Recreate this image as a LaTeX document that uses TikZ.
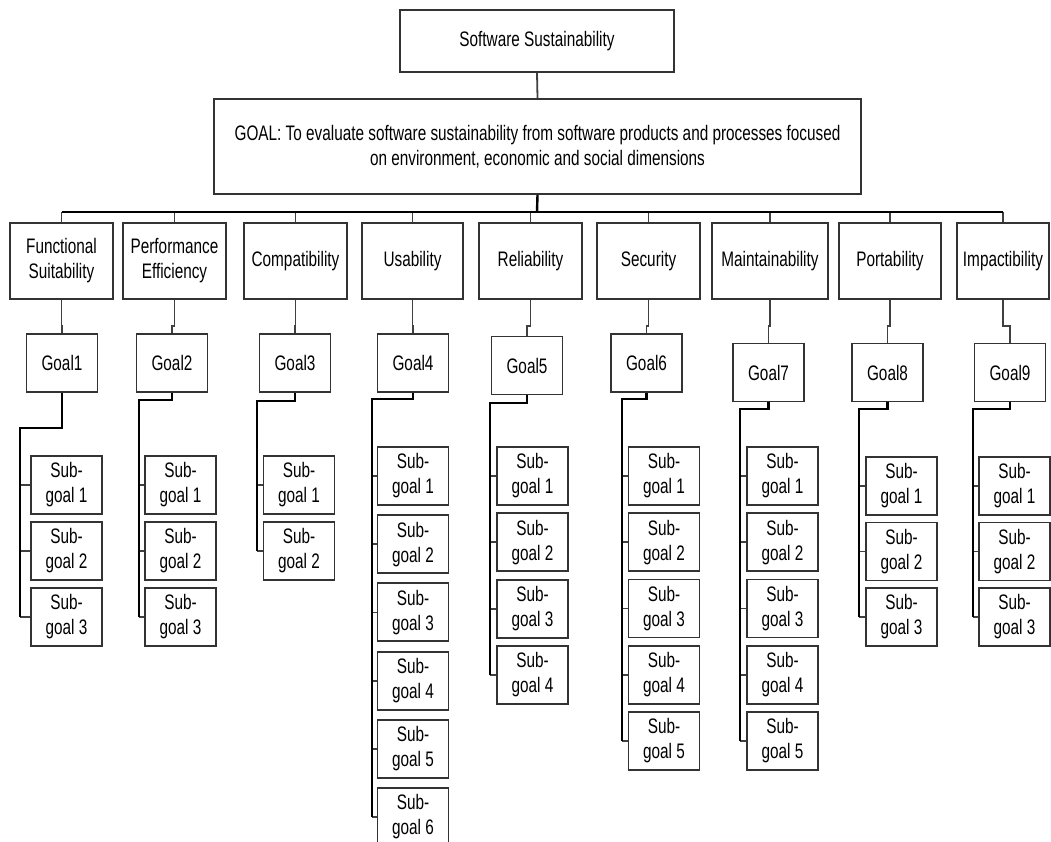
\documentclass[tikz,border=0pt]{standalone}
\usepackage{fontspec}
\setmainfont{Liberation Sans}[FakeStretch=0.73]
\usetikzlibrary{calc}
\tikzstyle{box}=[draw=black!80,line width=1.9pt,fill=white,align=center,inner sep=0pt,font=\fontsize{21}{25}\selectfont]
\tikzstyle{catbox}=[box,minimum height=76pt]
\tikzstyle{goalbox}=[box,minimum width=71pt,minimum height=58pt]
\tikzstyle{subbox}=[box,minimum width=71pt,minimum height=58pt]
\tikzstyle{link}=[draw=black!75,line width=1.8pt]
\tikzstyle{trunk}=[draw=black,line width=2.4pt]
\newcommand{\subcolumn}[7]{% column, x of subs, top of first sub, step, count, trunk x, elbow y
  \coordinate (t#1) at (#6,#7);
  \foreach \j in {1,...,#5} {
    \node[subbox] (s#1-\j) at (#2,{#3+29+(\j-1)*#4}) {Sub-\\goal \j};
    \draw[link] (s#1-\j.west) -- (s#1-\j.west -| t#1);
  }
  \draw[trunk] (g#1.south) |- (t#1) -- (t#1 |- s#1-#5.west);
}

\begin{document}
\begin{tikzpicture}[x=1pt,y=-1pt]
\useasboundingbox (0,0) rectangle (1051,842);
\node[box,minimum width=274pt,minimum height=62pt] (top) at (537,41) {Software Sustainability};
\node[box,minimum width=647pt,minimum height=95pt] (goal) at (537.5,146.5)
  {GOAL: To evaluate software sustainability from software products and processes focused\\on environment, economic and social dimensions};
\draw[link] (top.south) -- (goal.north);
\coordinate (bus) at (537,212);

% quality characteristics
\foreach \i/\x/\w/\name in {1/61.5/103/{Functional\\Suitability},2/174.5/103/{Performance\\Efficiency},
  3/295.5/103/Compatibility,4/412.5/101/Usability,5/530.5/103/Reliability,6/648.5/103/Security,
  7/770/116/Maintainability,8/890/102/Portability,9/1003/92/Impactibility}{
  \node[catbox,minimum width=\w pt] (c\i) at (\x,261) {\name};
  \draw[link] (c\i.north) -- (c\i.north |- bus);
}
\draw[trunk] (goal.south) -- (bus);
\draw[trunk] (c1.north |- bus) -- (c9.north |- bus);

% goals
\foreach \i/\x/\y in {1/62/363,2/172/363,3/295/363,4/413/363,5/527/365.5,6/646.5/363,
  7/768.5/372.5,8/887.5/372.5,9/1010/372.5}{
  \node[goalbox] (g\i) at (\x,\y) {Goal\i};
  \draw[link] (c\i.south) -- ++(0,26) -| (g\i.north);
}

% sub-goals
\subcolumn{1}{66.5}{456}{66}{3}{20}{428}
\subcolumn{2}{180.5}{456}{66}{3}{139}{400}
\subcolumn{3}{299}{456}{66}{2}{257}{401}
\subcolumn{4}{413}{447}{68.2}{6}{372}{399}
\subcolumn{5}{532.5}{447}{66.3}{4}{490}{403}
\subcolumn{6}{664}{447}{66.25}{5}{622}{399}
\subcolumn{7}{782.5}{447}{66.25}{5}{740}{409}
\subcolumn{8}{901.5}{457}{65.5}{3}{859}{409}
\subcolumn{9}{1014.5}{457}{65.5}{3}{973}{409}
\end{tikzpicture}
\end{document}
